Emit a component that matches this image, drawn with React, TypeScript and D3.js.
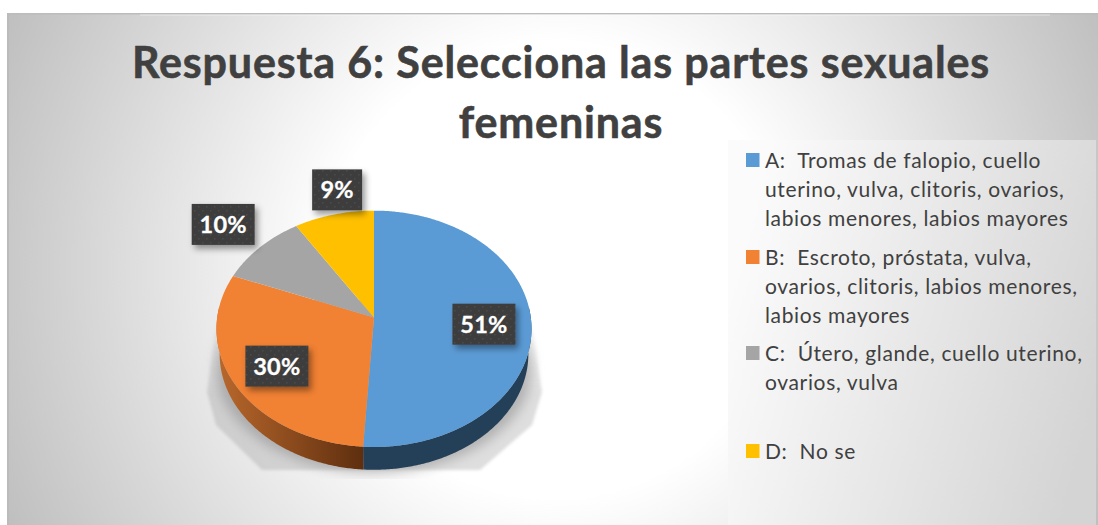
import React from "react";
import * as d3 from "d3";

const titleLines = ["Respuesta 6: Selecciona las partes sexuales", "femeninas"];
const categories = ["A", "B", "C", "D"];
const percents = [51, 30, 10, 9];
const colors = ["#5b9bd5", "#f18133", "#a5a5a5", "#ffc000"];
const legendLines = [
  ["A:  Tromas de falopio, cuello", "uterino, vulva, clitoris, ovarios,", "labios menores, labios mayores"],
  ["B:  Escroto, próstata, vulva,", "ovarios, clitoris, labios menores,", "labios mayores"],
  ["C:  Útero, glande, cuello uterino,", "ovarios, vulva"],
  ["D:  No se"],
];
const legendTops = [153, 250, 346, 444];

// layout of the perspective pie
const CX = 374, APEX_Y = 317.6, RX = 156.8, RY = 117.1, K = 0.0947;
const BASE_Y = 343, BASE_SCALE = 0.98;
const labelRadius = [0.7, 0.7, 1.35, 1.3];
const labelNudge = [[0, 4], [-1, 3], [0, 0], [14, 3]];

type P = [number, number];
const project = (theta: number, r = 1, base = false): P => {
  const X = Math.sin(theta) * r, Y = Math.cos(theta) * r, w = 1 + K * Y;
  const s = base ? BASE_SCALE : 1;
  return [CX + (s * RX * X) / w, (base ? BASE_Y : APEX_Y) - (s * RY * Y) / w];
};
const line = d3.line<P>();
const arcPts = (a: number, b: number, base = false): P[] => {
  const n = Math.max(2, Math.ceil(Math.abs(b - a) / 0.01));
  return d3.range(n + 1).map((i) => project(a + ((b - a) * i) / n, 1, base));
};

const slices = d3.pie<number>().sort(null)(percents);
// widest visible points of the top face
const LEFT_T = Math.PI * 1.5 + 0.095;
const RIGHT_T = Math.PI * 0.5 - 0.095;

const sidePath = (a: number, b: number) => {
  const lo = Math.max(a, RIGHT_T), hi = Math.min(b, LEFT_T);
  if (hi <= lo) return null;
  return line([...arcPts(lo, hi), ...arcPts(hi, lo, true)]) + "Z";
};

export default function App() {
  return (
    <svg width={1098} height={525} style={{ position: "absolute", left: 0, top: 0, display: "block" }}
      fontFamily="Lato, 'Open Sans', sans-serif">
      <defs>
        <radialGradient id="bg" gradientUnits="userSpaceOnUse" cx={555} cy={270} r={615}>
          <stop offset="0.37" stopColor="#ffffff" />
          <stop offset="1" stopColor="#bdbdbd" />
        </radialGradient>
        <linearGradient id="legendBg" gradientUnits="userSpaceOnUse" x1={728} y1={300} x2={1096} y2={400}>
          <stop offset="0" stopColor="#fbfbfb" />
          <stop offset="1" stopColor="#d4d4d4" />
        </linearGradient>
        <linearGradient id="orangeSide" gradientUnits="userSpaceOnUse" x1={217} x2={364} y1={0} y2={0}>
          <stop offset="0" stopColor="#b9682c" />
          <stop offset="1" stopColor="#5e2e0e" />
        </linearGradient>
        <linearGradient id="shadowFade" gradientUnits="userSpaceOnUse" x1={0} x2={0} y1={325} y2={395}>
          <stop offset="0" stopColor="#9a9a9a" stopOpacity={0.05} />
          <stop offset="1" stopColor="#9a9a9a" stopOpacity={0.6} />
        </linearGradient>
        <clipPath id="shadowClip"><rect x={150} y={300} width={450} height={179} /></clipPath>
        <filter id="blurSoft" x="-20%" y="-20%" width="140%" height="140%">
          <feGaussianBlur stdDeviation={6} />
        </filter>
        <filter id="blurEdge" x="-20%" y="-20%" width="140%" height="140%">
          <feGaussianBlur stdDeviation={1.5} />
        </filter>
        <filter id="boxShadow" x="-30%" y="-30%" width="170%" height="170%">
          <feDropShadow dx={3} dy={4} stdDeviation={3} floodColor="#000" floodOpacity={0.4} />
        </filter>
        <pattern id="dots" width={8} height={8} patternUnits="userSpaceOnUse">
          <rect width={8} height={8} fill="#3e3e3e" />
          <rect x={2} y={2} width={1.5} height={1.5} fill="#4a4a4a" />
          <rect x={6} y={6} width={1.5} height={1.5} fill="#4a4a4a" />
        </pattern>
      </defs>

      <rect x={7} y={13} width={1091} height={512} fill="url(#bg)" />
      <rect x={7} y={13} width={2} height={512} fill="#bbbbbb" />
      <rect x={7} y={13} width={1091} height={1.5} fill="#bcbcbc" />
      <rect x={140} y={14.5} width={910} height={1} fill="#ffffff" opacity={0.5} />

      {titleLines.map((t, i) => (
        <text key={t} x={561} y={78 + i * 60} textAnchor="middle" fontSize={43} fontWeight={700} letterSpacing={0.85}
          stroke="#404040" strokeWidth={0.6} fill="#404040">{t}</text>
      ))}

      <rect x={728} y={140} width={368} height={385} fill="url(#legendBg)" />
      {legendLines.map((lines, i) => (
        <g key={categories[i]}>
          <rect x={746} y={legendTops[i]} width={13.5} height={14} fill={colors[i]} />
          {lines.map((l, j) => (
            <text key={l} x={765} y={legendTops[i] + 15 + j * 29} fontSize={21} letterSpacing={0.65} fill="#404040" style={{ whiteSpace: "pre" }}>{l}</text>
          ))}
        </g>
      ))}

      {/* shadow under the pie */}
      <g clipPath="url(#shadowClip)">
        <path d="M216,326L207,392L216,425L262,470L480,470L532,425L542,392L532,326Z" fill="url(#shadowFade)" filter="url(#blurEdge)" opacity={0.55} />
        <ellipse cx={CX} cy={368} rx={158} ry={105} fill="#8c8c8c" opacity={0.55} filter="url(#blurSoft)" />
      </g>

      {/* side wall */}
      {slices.map((s, i) => {
        const d = sidePath(s.startAngle, s.endAngle);
        return d ? <path key={categories[i]} d={d} fill={i === 0 ? "#243f58" : "url(#orangeSide)"} /> : null;
      })}

      {/* top face */}
      {slices.map((s, i) => (
        <path key={categories[i]} d={line([[CX, APEX_Y], ...arcPts(s.startAngle, s.endAngle)]) + "Z"} fill={colors[i]} />
      ))}

      {/* data labels */}
      {slices.map((s, i) => {
        const mid = (s.startAngle + s.endAngle) / 2;
        const [x0, y0] = project(mid, labelRadius[i]);
        const x = x0 + labelNudge[i][0], y = y0 + labelNudge[i][1];
        const w = percents[i] < 10 ? 50 : 63;
        return (
          <g key={categories[i]}>
            <rect x={x - w / 2} y={y - 20.5} width={w} height={41} fill="url(#dots)" filter="url(#boxShadow)" />
            <text x={x} y={y + 8.5} textAnchor="middle" fontSize={23.5} fontWeight={700} letterSpacing={0.3}
              stroke="#ffffff" strokeWidth={0.3} fill="#ffffff">{percents[i]}%</text>
          </g>
        );
      })}
    </svg>
  );
}
